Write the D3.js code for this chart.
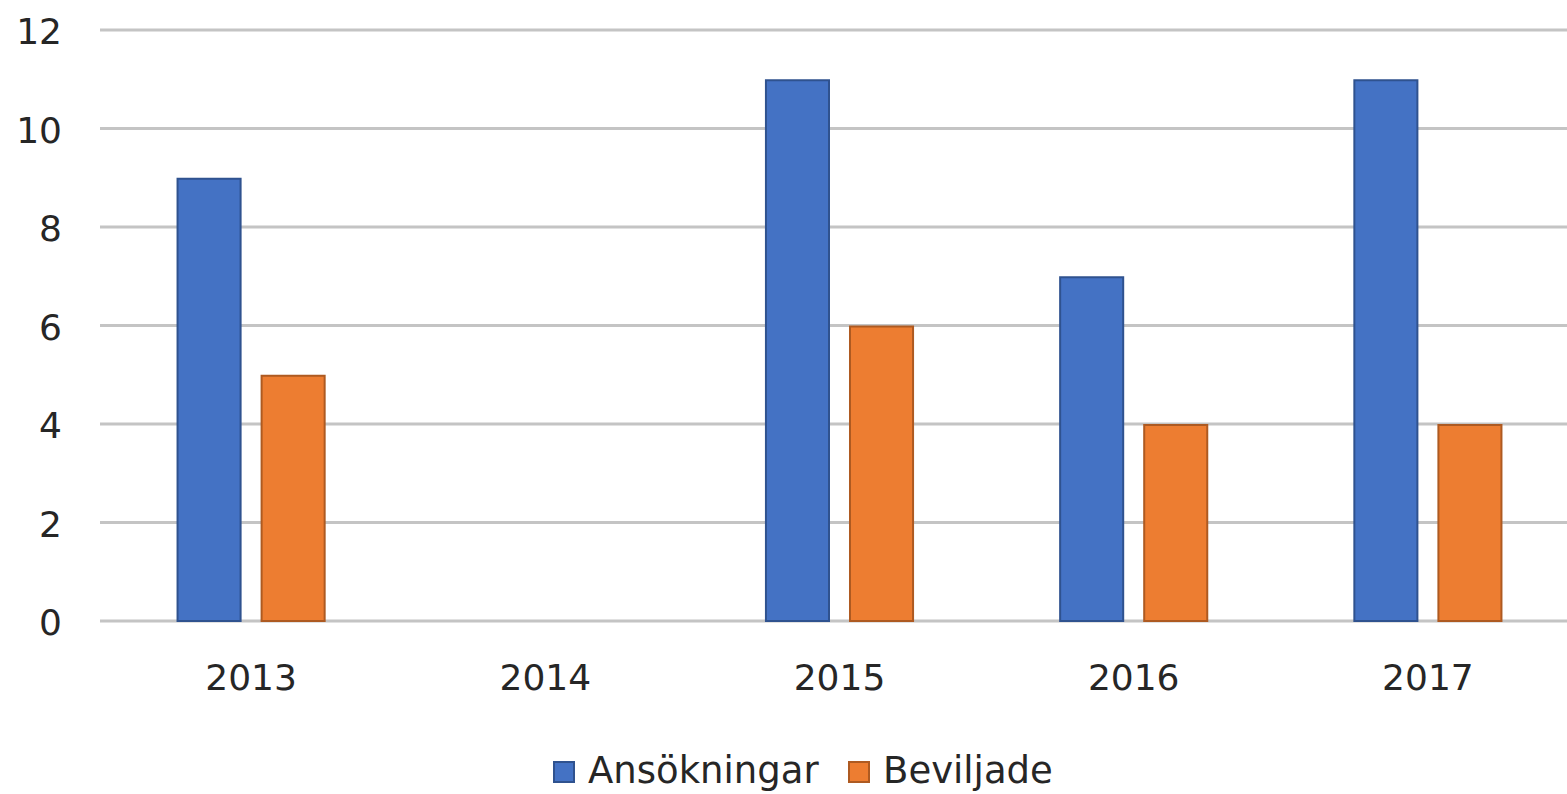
<!DOCTYPE html>
<html><head><meta charset="utf-8">
<script src="https://cdn.jsdelivr.net/npm/d3@7"></script>
<style>html,body{margin:0;padding:0;background:#fff;overflow:hidden}</style>
</head><body>
<svg id="c" width="1567" height="794"></svg>
<script>
const categories = ["2013","2014","2015","2016","2017"];
const seriesNames = ["Ansökningar","Beviljade"];
const ansokningar = [9, 0, 11, 7, 11];
const beviljade = [5, 0, 6, 4, 4];
const yTicks = [0,2,4,6,8,10,12];
const colors = ["#4472C4","#ED7D31"];
const strokes = ["#2F528F","#AE5A21"];

const svg = d3.select("#c");
const font = "'DejaVu Sans', sans-serif";
const x0 = d3.scaleBand().domain(categories).range([104, 1575]).paddingInner(0).paddingOuter(0);
const x1 = d3.scaleBand().domain(seriesNames).range([0, x0.bandwidth()]).paddingInner(0.226).paddingOuter(0.863);
const y = d3.scaleLinear().domain([0,12]).range([621, 30]);

// gridlines
svg.append("g").selectAll("line").data(yTicks).join("line")
  .attr("x1", 100).attr("x2", 1567)
  .attr("y1", d=>y(d)).attr("y2", d=>y(d))
  .attr("stroke", "#C4C4C4").attr("stroke-width", 3);

// y labels
svg.append("g").selectAll("text").data(yTicks).join("text")
  .attr("x", 62).attr("y", d=>y(d)+14)
  .attr("text-anchor","end").attr("font-family",font).attr("font-size",36).attr("fill","#262626")
  .text(d=>d);

// bars
const data = categories.map((c,i)=>({c, vals:[ansokningar[i], beviljade[i]]}));
const g = svg.append("g");
data.forEach(d=>{
  d.vals.forEach((v,j)=>{
    if(!v) return;
    g.append("rect")
      .attr("x", x0(d.c)+x1(seriesNames[j])+1)
      .attr("y", y(v)+1)
      .attr("width", x1.bandwidth()-2)
      .attr("height", y(0)-y(v)-1)
      .attr("fill", colors[j]).attr("stroke", strokes[j]).attr("stroke-width", 2);
  });
});

// x labels
svg.append("g").selectAll("text").data(categories).join("text")
  .attr("x", d=>x0(d)+x0.bandwidth()/2).attr("y", 690)
  .attr("text-anchor","middle").attr("font-family",font).attr("font-size",36).attr("fill","#262626")
  .text(d=>d);

// legend
const legX = [554, 849];
seriesNames.forEach((n,j)=>{
  svg.append("rect").attr("x", legX[j]).attr("y", 762).attr("width", 20).attr("height", 20)
    .attr("fill", colors[j]).attr("stroke", strokes[j]).attr("stroke-width", 2);
  svg.append("text").attr("x", legX[j]+34).attr("y", 783)
    .attr("font-family",font).attr("font-size",37).attr("fill","#262626").text(n);
});
</script>
</body></html>
